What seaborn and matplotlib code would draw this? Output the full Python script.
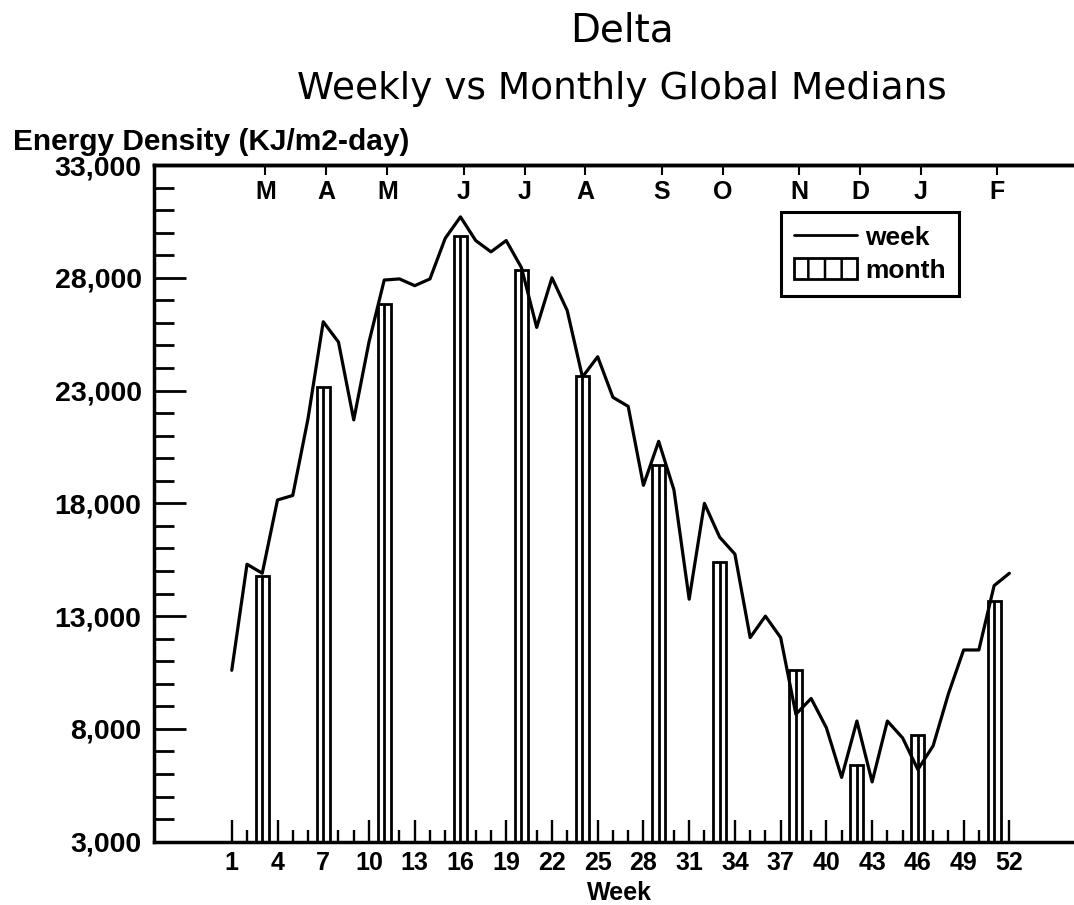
import matplotlib
matplotlib.use("Agg")
import matplotlib.pyplot as plt
import matplotlib.ticker as mticker
from matplotlib.lines import Line2D
from matplotlib.patches import Patch
import pandas as pd
import seaborn as sns

# Weekly global medians (KJ/m2-day)
weeks = list(range(1, 53))
weekly_median = [10600, 15300, 14900, 18150, 18350, 21750, 26050, 25150, 21700, 25150,
                 27900, 27950, 27650, 27950, 29750, 30700, 29650, 29150, 29650, 28450,
                 25800, 28000, 26550, 23600, 24500, 22700, 22300, 18800, 20750, 18600,
                 13750, 18000, 16500, 15750, 12050, 13000, 12050, 8650, 9350, 8050,
                 5850, 8350, 5650, 8350, 7600, 6200, 7250, 9550, 11500, 11500,
                 14350, 14900]

# Monthly global medians, placed at the week each month is centred on
month_weeks = [3, 7, 11, 16, 20, 24, 29, 33, 38, 42, 46, 51]
month_median = [14800, 23150, 26850, 29850, 28350, 23650, 19700, 15400, 10600, 6400, 7750, 13650]
month_labels = ["M", "A", "M", "J", "J", "A", "S", "O", "N", "D", "J", "F"]

week_tick_labels = list(range(1, 53, 3))
y_ticks = [3000, 8000, 13000, 18000, 23000, 28000, 33000]

sns.set_style("white")
plt.rcParams["font.family"] = ["Liberation Sans", "DejaVu Sans"]
plt.rcParams["hatch.linewidth"] = 1.8
for key in ("text.color", "axes.labelcolor", "xtick.color", "ytick.color", "axes.edgecolor"):
    plt.rcParams[key] = "black"

W, H = 1074, 905
fig = plt.figure(figsize=(W / 100, H / 100), dpi=100)
ax = fig.add_axes([154 / W, 1 - 841.7 / H, 1 - 154 / W, (841.7 - 165) / H])

bars = pd.DataFrame({"week": month_weeks, "median": month_median})
sns.barplot(data=bars, x="week", y="median", native_scale=True, width=0.21,
            color="white", edgecolor="black", linewidth=2.0, saturation=1,
            errorbar=None, ax=ax, zorder=2)
# divider line down the middle of each monthly bar
ax.vlines(bars["week"], y_ticks[0], bars["median"], color="black", lw=2.0, zorder=3)

sns.lineplot(x=weeks, y=weekly_median, color="black", linewidth=2.3, ax=ax, zorder=4)

ax.set_xlim(-4.1, 56.24)
ax.set_ylim(y_ticks[0], y_ticks[-1])
ax.set_xlabel("")
ax.set_ylabel("")

ax.set_xticks(week_tick_labels)
ax.set_xticks(weeks, minor=True)
ax.set_yticks(y_ticks)
ax.yaxis.set_minor_locator(mticker.MultipleLocator(1000))
ax.yaxis.set_major_formatter(mticker.StrMethodFormatter("{x:,.0f}"))

ax.tick_params(axis="x", which="major", direction="in", length=15.5, width=1.7,
               pad=7, labelsize=18, bottom=True)
ax.tick_params(axis="x", which="minor", direction="in", length=9, width=1.7, bottom=True)
ax.tick_params(axis="y", which="major", direction="in", length=23, width=2.0,
               pad=9, labelsize=20.5, left=True)
ax.tick_params(axis="y", which="minor", direction="in", length=14.4, width=2.0, left=True)
for lab in ax.get_xticklabels() + ax.get_yticklabels():
    lab.set_fontweight("bold")

for side in ("left", "top", "bottom"):
    ax.spines[side].set_visible(True)
    ax.spines[side].set_linewidth(2.5)
    ax.spines[side].set_color("black")
ax.spines["right"].set_visible(False)

# month markers along the top edge
month_pos = [w + 0.2 for w in month_weeks]
top = ax.secondary_xaxis("top")
top.set_xticks(month_pos)
top.tick_params(direction="in", length=7, width=1.5, labeltop=False)
top.spines["top"].set_linewidth(2.5)
for x, lab in zip(month_pos, month_labels):
    ax.text(x, 0.96, lab, transform=ax.get_xaxis_transform(), ha="center",
            va="center", fontsize=18, fontweight="bold")

handles = [Line2D([], [], color="black", lw=2.0),
           Patch(facecolor="white", edgecolor="black", hatch="|", linewidth=2.0)]
leg = ax.legend(handles, ["week", "month"], loc="upper right",
                bbox_to_anchor=(0.875, 0.930), frameon=True, fancybox=False,
                edgecolor="black", framealpha=1,
                prop={"weight": "bold", "size": 19},
                handlelength=2.4, handleheight=0.85, handletextpad=0.3,
                borderpad=0.5, labelspacing=0.3, borderaxespad=0)
leg.get_frame().set_linewidth(2.2)

fig.text(622 / W, 1 - 42 / H, "Delta", ha="center", va="baseline",
         fontsize=28, family="DejaVu Sans")
fig.text(622 / W, 1 - 99 / H, "Weekly vs Monthly Global Medians", ha="center",
         va="baseline", fontsize=27, family="DejaVu Sans")
fig.text(13 / W, 1 - 150 / H, "Energy Density (KJ/m2-day)", ha="left",
         va="baseline", fontsize=21.5, fontweight="bold")
fig.text(619 / W, 1 - 900 / H, "Week", ha="center", va="baseline",
         fontsize=18, fontweight="bold")

fig.savefig("out.png", dpi=100, facecolor="white")
